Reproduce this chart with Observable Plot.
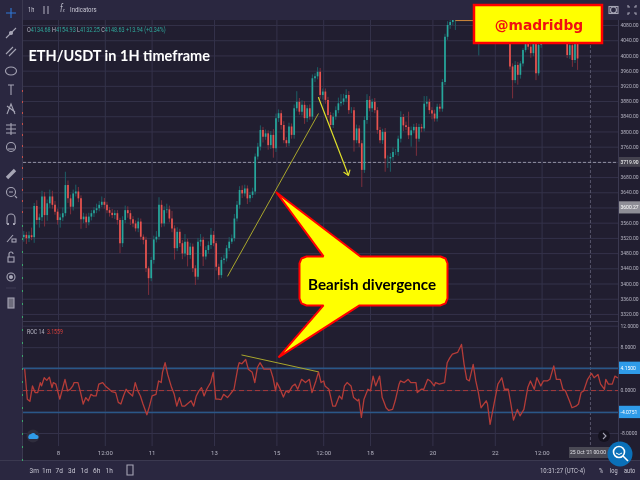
<!DOCTYPE html>
<html><head><meta charset="utf-8">
<script src="https://cdn.jsdelivr.net/npm/d3@7"></script>
<script src="https://cdn.jsdelivr.net/npm/@observablehq/plot@0.6"></script>
<style>
html,body{margin:0;padding:0;background:#211e30}
#root{position:relative;width:640px;height:480px;overflow:hidden;background:#211e30;filter:blur(.35px);font-family:Roboto,sans-serif}
#root>svg{position:absolute;left:0;top:0}
.bar{position:absolute;background:#2a2740}
.ui{position:absolute;white-space:nowrap;color:#b9b8c6;font-size:7px;line-height:10px;transform-origin:left center;transform:scaleX(.8)}
.range{position:absolute;top:466px;width:12.4px;text-align:center;color:#c9c8d4;font-size:6.5px;line-height:10px}
</style></head><body><div id="root"></div>
<script>
// ---------- price data (close, upper wick, lower wick), one candle every 2 hours ----------
const closesA=[3528,3519,3527,3522,3604,3567,3574,3629,3580,3611,3629,3607,3589,3567,3574,3585,3659,3624,3602,3637,3642,3624,3569,3576,3561,3576,3585,3593,3598,3607,3615,3607,3593,3586,3580,3585,3567,3506,3567,3593,3585,3569,3558,3545,3563,3523,3515,3440,3414,3462,3516,3523,3607,3558,3593,3595,3571,3545,3493,3536,3506,3479,3510,3475,3497,3440,3418,3510,3515,3471,3488,3501,3528,3506,3444,3422,3462,3466,3493,3510,3519,3571,3607,3646,3637,3650,3624,3633,3642];
const upperA=[10,8,10,20,8,15,10,15,12,10,18,15,10,8,10,15,35,12,10,10,18,12,8,10,8,10,8,8,12,10,14,10,8,8,10,8,8,6,10,12,10,8,8,8,10,8,6,8,5,8,10,15,20,12,10,15,10,20,8,12,8,8,20,8,10,8,8,10,15,8,10,10,18,10,6,8,8,10,8,12,10,12,10,10,12,10,8,8,10];
const lowerA=[12,15,10,8,15,12,20,10,30,15,12,10,8,12,20,10,8,12,20,10,8,10,25,10,15,8,10,10,8,8,6,10,8,10,8,10,12,26,10,8,12,15,10,8,10,8,12,10,44,8,10,8,8,10,8,8,10,10,30,8,10,15,8,30,10,10,22,8,12,25,8,10,10,8,10,12,8,10,8,8,6,8,8,10,12,8,15,10,8];
const closesB=[3734,3760,3804,3786,3795,3764,3791,3756,3835,3848,3817,3777,3769,3813,3791,3861,3878,3852,3870,3835,3861,3839,3940,3945,3957,3896,3905,3883,3843,3817,3839,3856,3874,3878,3887,3896,3856,3856,3777,3808,3769,3699,3830,3883,3861,3878,3856,3804,3777];
const upperB=[8,10,12,8,10,8,10,15,12,10,8,10,8,10,8,10,28,10,12,10,8,10,10,8,12,10,8,8,8,8,10,10,15,20,12,15,10,8,8,10,8,8,10,15,10,8,10,8,8];
const lowerB=[8,8,10,15,8,12,10,25,10,10,12,8,10,8,10,10,8,8,10,15,10,8,8,10,8,10,12,10,8,10,8,8,8,8,8,10,10,8,30,8,10,45,8,10,8,10,8,10,8];
const closesC=[3799,3729,3729,3733,3746,3746,3781,3838,3816,3812,3790,3803,3812,3781,3812,3808,3873,3878,3856,3847,3834,3865,3860,3930,4049,4080,4088];
const upperC=[8,10,8,10,12,8,8,15,8,10,40,10,8,10,8,8,20,15,8,8,10,8,8,8,8,10,12];
const lowerC=[10,35,25,35,10,8,10,10,15,8,10,30,8,45,8,10,8,8,10,15,8,8,8,8,8,8,10];
const closesD=[4105,4120,4140,4125,4150,4165,4150,4170,4180,4160,4175,4190,4175,4160,4145,4160,4150,4130,4110,4095,4085,4075];
const upperD=[10,10,10,10,10,10,10,10,10,10,10,10,10,10,10,10,10,10,10,10,10,10];
const lowerD=[8,38,8,8,8,8,8,8,8,8,160,8,8,8,8,8,8,8,8,8,8,8];
const closesE=[3971,3935,3975,3949,3979,4014,4032,4023,4006,4032,3953,4028,4045,4055,4075,4090,4100,4110,4095,4085,4070,4055,4001,4027,3988,4032,3992];
const upperE=[8,8,10,8,6,5,8,6,8,5,8,8,8,8,8,8,8,8,8,8,8,8,8,8,6,8,8];
const lowerE=[8,48,8,26,10,8,6,8,12,8,18,6,8,6,6,6,6,6,6,6,6,6,8,10,18,8,30];
const firstCandleHour=-26.7, candleStepHours=2;

// ---------- ROC 14 (hours since 8 Oct 00:00, value) ----------
const rocHours=[-26,-24,-22,-20,-18,-16,-14,-13,-11,-9,-7,-5,-4,-2,-1,1,3,5,7,9,11,12,15,17,19,21,23,25,27,29,31,34,36,39,41,44,46,48,50,52,54,57,59,61,63,65,68,70,72,75,77,79,80,82,84,87,89,91,93,95,97,99,102,104,106,108,110,112,114,117,119,121,123,125,127,130,132,135,138,139,141,144,146,149,151,153,155,158,161,163,165,167,168,170,173,175,177,180,182,184,187,190,193,195,198,200,202,204,205,208,211,213,216,218,220,222,225,227,230,231,233,235,238,240,242,244,247,249,250,252,254,257,259,262,263,266,269,271,275,276,279,281,284,286,289,290,293,297,299,301,303,307,310,312,314,316,319,321,323,325,329,330,332,335,338,341,343,346,348,350,353,355,358,361,363,366,368,371,373,376,378,381,383,386,388,390,393,395,398,400,402,404,407,410,412,415,417,420,421,423,426,428,430];
const rocValues=[3.98,-1.6,-2,.87,-.37,-.37,1.5,.87,2.4,1.9,2.5,.56,1.5,1.2,.25,-1.6,.25,2.1,-.06,.25,.87,1.5,1.5,-.37,-2.5,-1.3,-1.9,-.7,-1,-1,1.2,1.5,.87,.25,-.19,-.37,-2.2,-2.5,-1,.25,-.37,-1,1.5,-.06,-1,-2.5,-4.5,-2.9,-1,-.7,1.8,1.5,3.4,5.2,3,.56,-.7,-2.9,-1.3,-2.9,-2.9,-2.5,-1.9,-2.9,-1,-.06,.56,-1,.25,1.5,3.4,-1.6,-1.6,-1.7,-.7,-1.3,-.7,.25,4.3,5.2,5,5.8,4,3.4,1.5,4.3,5.2,4,4,4,2.4,-.06,1.5,.56,-1.2,-.06,-.37,.87,1.2,.25,2.1,1.5,2.1,-.37,1.8,3.5,1.5,1.8,.87,.25,-2.9,-2.9,-1,-1.6,.87,1.5,.87,-1.3,-1.9,-1.6,-5,-1.6,.25,-.06,2.7,.87,2.7,-1.3,-1.9,-3.2,-3.7,-3.5,-1.9,1.2,1.8,1.5,2.1,1.5,1.5,-.37,.25,.25,2.1,1.8,.87,1.5,1.2,1.5,5.2,6.1,6.8,7.1,8.6,4.9,2.1,1.8,4.9,1.8,-.37,-3.2,-1.9,-2.5,-6.3,-2.5,1.2,2.4,.25,.25,-2.5,-5.5,-3.5,-4.7,-3.5,.56,1.8,.25,2.4,.87,1.8,1.8,2.1,4.6,2.1,2.1,.25,-.06,-1.9,-3.2,-2.9,-2.5,-.37,-.06,2.1,3.2,2.4,3,1.2,.25,2.1,1.2,1.2,2.7,2.4];
const rocUpperBand=4.15, rocLowerBand=-4.0751;

// ---------- axes ----------
const priceTicks=[4080,4040,4000,3960,3920,3880,3840,3800,3760,3680,3640,3560,3520,3480,3440,3400,3360,3320];
const priceGrid=[4080,4040,4000,3960,3920,3880,3840,3800,3760,3720,3680,3640,3600,3560,3520,3480,3440,3400,3360,3320];
const rocTicks=[12,8,0,-8];
const rocGrid=[12,8,4,0,-4,-8];
const timeDays=[0,1.5,3,5,7,8.5,10,12,14,15.5];
const timeLabels=["8","12:00","11","13","15","12:00","18","20","22","12:00"];
const rangeLabels=["3m","1m","7d","3d","1d","6h","1h"];
const lastPrice=3719.90, markPrice=3600.27, cursorDay=17.05, domainDays=[-1.1218,17.949];
const priceDomain=[3304,4093.2], rocDomain=[-10.42,12.69];

// ---------- annotations (days since 8 Oct, price) ----------
const trendDays=[5.417,8.333], trendPrices=[3420,3848.6];
const arrowDays=[8.333,9.295], arrowPrices=[3890.6,3685.5];
const rocTrendDays=[5.865,8.333], rocTrendValues=[6.65,3.49];
const topLine={days:[12.72,13.36],price:4093};
const calloutDays=[6.987,9.679,12.244,12.404,12.468,12.468,12.404,12.244,9.647,7.051,8.494,7.949,7.788,7.724,7.724,7.788,7.949,8.494,6.987];
const calloutPrices=[3640.8,3472.5,3472.5,3467.2,3454.1,3362,3348.9,3343.6,3343.6,3206.8,3343.6,3343.6,3348.9,3362,3454.1,3467.2,3472.5,3472.5,3640.8];
const nameBox={days:[13.333,17.436],prices:[4032.7,4132.6]};

const day=d=>new Date(Date.UTC(2021,9,8)+d*864e5);
const hour=h=>new Date(Date.UTC(2021,9,8)+h*36e5);

const closes=[...closesA,...closesB,...closesC,...closesD,...closesE];
const uppers=[...upperA,...upperB,...upperC,...upperD,...upperE];
const lowers=[...lowerA,...lowerB,...lowerC,...lowerD,...lowerE];
const candles=closes.map((c,i)=>{
  const o=i?closes[i-1]:c-6;
  return {t:hour(firstCandleHour+i*candleStepHours),o,c,
    h:Math.max(o,c)+(uppers[i]||0),l:Math.min(o,c)-(lowers[i]||0),up:c>=o};
});
const rocSeries=rocHours.map((h,i)=>({t:hour(h),v:rocValues[i]}));
const UP="#27a69b",DOWN="#e9544f",UPW="#1c5f66",DOWNW="#7c2f3c",GRID="#34324a",FONT="Roboto,sans-serif";
const xScale={type:"utc",domain:domainDays.map(day),axis:null};
const base={width:640,height:480,marginLeft:23,marginRight:22,style:{background:"transparent",overflow:"visible"}};
const mainY={domain:priceDomain,axis:null};
const fmt4=d=>d3.format(".4f")(d).replace("−","-");

const roc=Plot.plot({...base,marginTop:322,marginBottom:34,x:xScale,y:{domain:rocDomain,axis:null},marks:[
  Plot.ruleY(rocGrid,{stroke:GRID,strokeWidth:1}),
  Plot.ruleX(timeDays.map(day),{stroke:GRID,strokeWidth:1}),
  Plot.ruleX([day(cursorDay)],{stroke:"#55546a",strokeDasharray:"3,2"}),
  Plot.ruleY([rocUpperBand,rocLowerBand],{stroke:"#2a5788",strokeWidth:1.4}),
  Plot.ruleY([0],{stroke:"#a83a3a",strokeWidth:1,strokeDasharray:"5,3"}),
  Plot.line(rocSeries,{x:"t",y:"v",stroke:"#b53c38",strokeWidth:1.3,curve:"linear"}),
  Plot.link([0],{x1:()=>day(rocTrendDays[0]),x2:()=>day(rocTrendDays[1]),y1:()=>rocTrendValues[0],y2:()=>rocTrendValues[1],stroke:"#a9a62c",strokeWidth:1}),
  Plot.axisY(rocTicks,{anchor:"right",tickSize:0,tickPadding:2,fill:"#b5b4c2",fontSize:5,fontFamily:FONT,label:null,tickFormat:fmt4}),
  Plot.axisX(timeDays.map(day),{anchor:"bottom",tickSize:0,tickPadding:4,fill:"#b5b4c2",fontSize:6,fontFamily:FONT,label:null,tickFormat:(d)=>timeLabels[timeDays.findIndex(v=>+day(v)===+d)]}),
  Plot.rect([rocUpperBand,rocLowerBand],{x1:()=>day(domainDays[1]),x2:()=>day(domainDays[1]+.72),y1:d=>d-1.15,y2:d=>d+1.15,fill:"#2f9be8"}),
  Plot.text([rocUpperBand,rocLowerBand],{x:()=>day(domainDays[1]),y:d=>d,dx:2,textAnchor:"start",fill:"#fff",fontSize:5,fontFamily:FONT,text:fmt4})
]});

const main=Plot.plot({...base,marginTop:20,marginBottom:160,x:xScale,y:mainY,marks:[
  Plot.ruleY(priceGrid,{stroke:GRID,strokeWidth:1}),
  Plot.ruleX(timeDays.map(day),{stroke:GRID,strokeWidth:1}),
  Plot.ruleX([day(cursorDay)],{stroke:"#55546a",strokeDasharray:"3,2"}),
  Plot.ruleY([lastPrice],{stroke:"#9c9bab",strokeWidth:.9,strokeDasharray:"3,2"}),
  Plot.ruleX(candles,{x:"t",y1:"l",y2:"h",stroke:d=>d.up?UPW:DOWNW,strokeWidth:1}),
  Plot.ruleX(candles,{x:"t",y1:"o",y2:"c",stroke:d=>d.up?UP:DOWN,strokeWidth:1.7}),
  Plot.link([0],{x1:()=>day(topLine.days[0]),x2:()=>day(topLine.days[1]),y1:()=>topLine.price,y2:()=>topLine.price,stroke:"#d08a3a",strokeWidth:1}),
  Plot.link([0],{x1:()=>day(trendDays[0]),x2:()=>day(trendDays[1]),y1:()=>trendPrices[0],y2:()=>trendPrices[1],stroke:"#a9a62c",strokeWidth:1}),
  Plot.arrow([0],{x1:()=>day(arrowDays[0]),x2:()=>day(arrowDays[1]),y1:()=>arrowPrices[0],y2:()=>arrowPrices[1],stroke:"#dede2a",strokeWidth:1.2,headLength:7,headAngle:70}),
  Plot.axisY(priceTicks,{anchor:"right",tickSize:0,tickPadding:2,fill:"#b5b4c2",fontSize:5,fontFamily:FONT,label:null,tickFormat:d=>d3.format(".2f")(d)}),
  Plot.rect([lastPrice],{x1:()=>day(domainDays[1]),x2:()=>day(domainDays[1]+.72),y1:d=>d-13,y2:d=>d+13,fill:"#45434f"}),
  Plot.rect([markPrice],{x1:()=>day(domainDays[1]),x2:()=>day(domainDays[1]+.72),y1:d=>d-16,y2:d=>d+16,fill:"#8f8e97"}),
  Plot.text([lastPrice,markPrice],{x:()=>day(domainDays[1]),y:d=>d,dx:2,textAnchor:"start",fill:"#fff",fontSize:5,fontFamily:FONT,text:d=>d3.format(".2f")(d)})
]});

const notes=Plot.plot({...base,marginTop:20,marginBottom:160,x:xScale,y:mainY,marks:[
  Plot.line(calloutDays.map((d,i)=>({t:day(d),p:calloutPrices[i]})),{x:"t",y:"p",fill:"#ffff00",stroke:"#ff0000",strokeWidth:2,strokeLinejoin:"miter",curve:"linear"}),
  Plot.text(["Bearish divergence"],{x:()=>day(10.05),y:()=>3397,fill:"#000",fontSize:15.2,fontWeight:700,fontFamily:"Lato,sans-serif"}),
  Plot.rect([0],{x1:()=>day(nameBox.days[0]),x2:()=>day(nameBox.days[1]),y1:()=>nameBox.prices[0],y2:()=>nameBox.prices[1],fill:"#ffff00",stroke:"#ff0000",strokeWidth:2.5}),
  Plot.text(["@madridbg"],{x:()=>day(15.4),y:()=>4080,fill:"#f01010",fontSize:13.8,fontWeight:700,fontFamily:"'DejaVu Sans',sans-serif"}),
  Plot.text(["ETH/USDT in 1H timeframe"],{x:()=>day(-.962),y:()=>3998,textAnchor:"start",fill:"#fff",fontSize:14.5,fontWeight:700,fontFamily:"Lato,sans-serif"})
]});

const root=document.getElementById("root");
root.append(roc,main);
const chrome=document.createElement("div");
chrome.innerHTML=`
<div class="bar" style="left:0;top:0;width:640px;height:20px"></div>
<div class="bar" style="left:0;top:0;width:22px;height:480px;border-right:1px solid #3b3950"></div>
<div class="bar" style="left:0;top:459.5px;width:640px;height:21px;border-top:1px solid #3b3950"></div>
<div class="bar" style="left:618px;top:20px;width:.7px;height:440px;background:#3b3950"></div>
<div class="bar" style="left:23px;top:321px;width:595px;height:1px;background:#3b3950"></div>
<div class="ui" style="left:28px;top:5px;color:#c9c8d4">1h</div>
<div class="ui" style="left:60px;top:4px;font-style:italic;font-size:10px">f<span style="font-size:5px">x</span></div>
<div class="ui" style="left:70px;top:5px;color:#c9c8d4;font-size:7.5px">Indicators</div>
<div class="ui" style="left:27px;top:25px;color:#2fa79b;font-size:6.5px;transform:scaleX(.84)"><span style="color:#b9b8c6">O</span>4134.68 <span style="color:#b9b8c6">H</span>4154.93 <span style="color:#b9b8c6">L</span>4132.25 <span style="color:#b9b8c6">C</span>4148.63 +13.94 (+0.34%)</div>
<div class="ui" style="left:27px;top:327px;font-size:6.5px">ROC 14 &nbsp;<span style="color:#d9403c">3.1559</span></div>
${rangeLabels.map((t,i)=>`<div class="range" style="left:${28+i*12.5}px">${t}</div>`).join("")}
<div class="ui" style="left:540px;top:466px;color:#c9c8d4;font-size:7.5px">10:31:27 (UTC-4)</div>
<div class="ui" style="left:599px;top:466px;color:#c9c8d4">%</div>
<div class="ui" style="left:610px;top:466px;color:#c9c8d4">log</div>
<div class="ui" style="left:624px;top:466px;color:#c9c8d4">auto</div>
<div style="position:absolute;left:569px;top:447px;width:41px;height:11px;background:#4a4954;color:#e0e0e6;font-size:5px;line-height:11px;padding-left:1px;white-space:nowrap">25 Oct '21 00:00</div>
<svg style="position:absolute;left:0;top:0" width="640" height="480" fill="none" stroke="#a6a5b5" stroke-width="1.1">
 <path d="M22.5 90V220" stroke="#c8504a" stroke-width="1" stroke-dasharray="2,9"/>
 <path d="M22.5 225V470" stroke="#3aa76a" stroke-width="1" stroke-dasharray="2,11"/>
 <path d="M11 8V18M6 13H16" stroke="#2f78d8"/>
 <path d="M6 38L16 28"/><circle cx="11" cy="33" r="1.5" fill="#a6a5b5"/>
 <path d="M6 54L13 47M9 56L16 49"/>
 <ellipse cx="11" cy="71" rx="5.5" ry="4"/>
 <path d="M8 85H14M11 85V95"/>
 <path d="M7 114L11 104L15 114M7 106L15 112"/>
 <path d="M6 125H16M6 129H16M6 133H16M11 123V135"/>
 <circle cx="11" cy="147" r="4.5"/><path d="M8 149H14"/>
 <path d="M7 178L15 170" stroke-width="3.4"/>
 <circle cx="11" cy="192" r="4.5"/><path d="M15 196L17 198M9 192H13"/>
 <path d="M7 224V218A4 4 0 0 1 15 218V224"/><path d="M7 224H9M13 224H15" stroke-width="2"/>
 <path d="M7 242L13 235"/><rect x="12" y="239" width="4" height="3"/>
 <rect x="8" y="257" width="6" height="5"/><path d="M9 257V254A2 2 0 0 1 13 254"/>
 <circle cx="11" cy="277" r="4"/><circle cx="11" cy="277" r="1.5" fill="#a6a5b5"/>
 <path d="M6 288H16" stroke="#3b3950"/>
 <rect x="8" y="298" width="6" height="10" fill="#6d6c7c"/>
 <path d="M44 6V14M48 6V14"/>
 <circle cx="613.5" cy="10" r="3"/><rect x="609" y="6.5" width="9" height="7"/>
 <path d="M628 5V7H630M636 5V7H634M628 15V13H630M636 15V13H634"/>
 <path d="M127 465H133V475H127Z"/>
 <circle cx="33" cy="436" r="6.5" fill="#2f2d3d" stroke="none"/><path d="M29 439H37A2 2 0 0 0 36 435A3 3 0 0 0 31 434A3 3 0 0 0 29 439Z" fill="#2f9be8" stroke="none"/>
 <circle cx="604" cy="436" r="6" fill="#14121e" stroke="none"/><path d="M603 433L606 436L603 439"/>
</svg>
<svg style="position:absolute;left:0;top:0" width="640" height="480" fill="none">
 <circle cx="620" cy="454" r="12.5" fill="#0a70b8"/>
 <circle cx="619" cy="452" r="5.5" stroke="#fff" stroke-width="1.6"/><path d="M623 456L628 461" stroke="#fff" stroke-width="1.6"/><path d="M616 453Q619 456 622 453" stroke="#fff"/>
</svg>`;
root.append(chrome);
root.append(notes);
</script></body></html>
